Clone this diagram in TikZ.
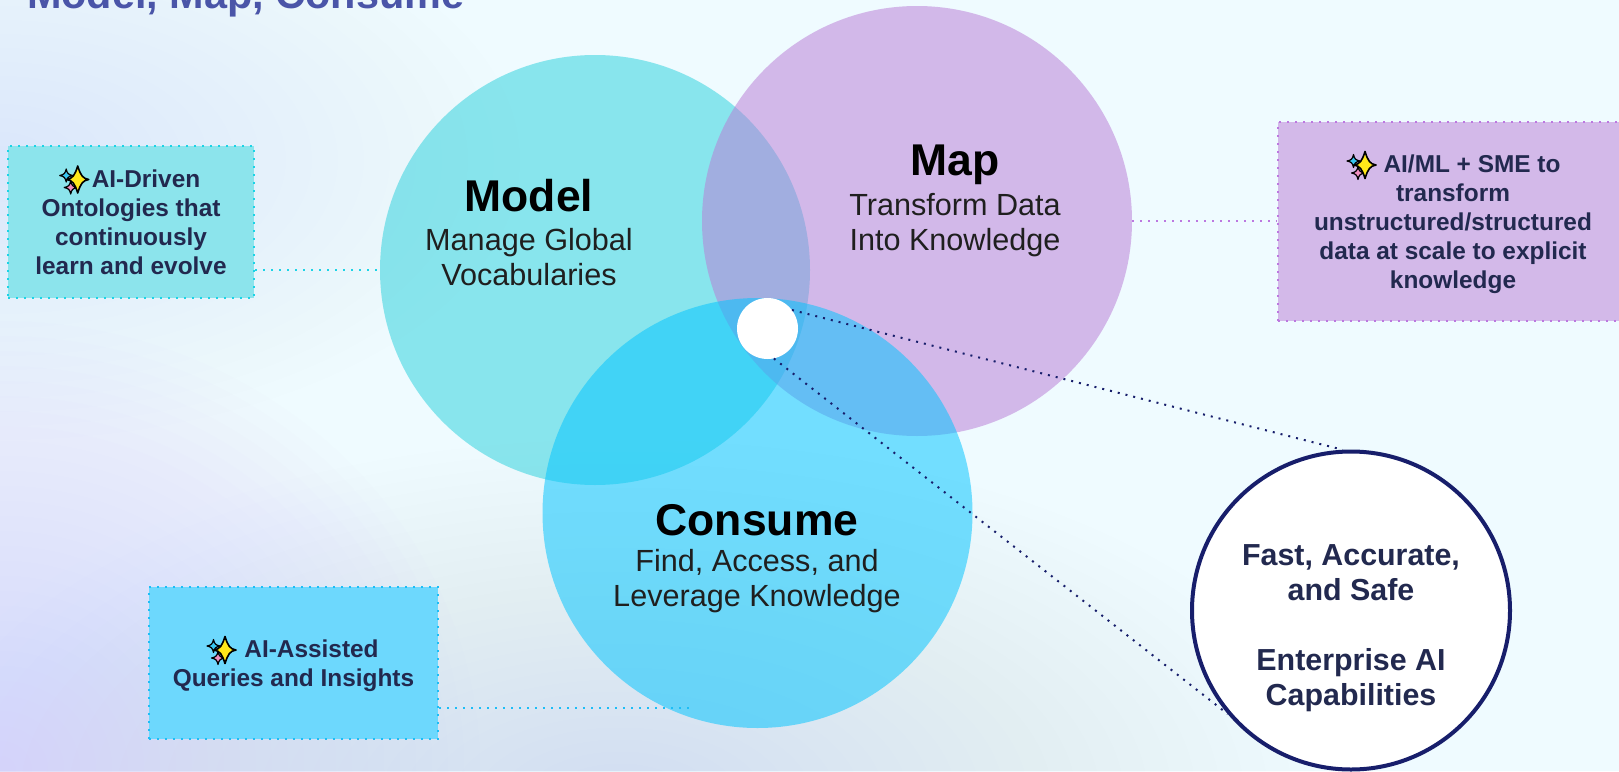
\documentclass[tikz,border=0pt]{standalone}
\usepackage{fontspec}
\setmainfont{Liberation Sans}
\definecolor{basebg}{HTML}{EFFBFF}
\definecolor{lavbg}{HTML}{D4C8FB}
\definecolor{bluebg}{HTML}{B8DCF2}
\definecolor{inkdark}{HTML}{22294F}
\definecolor{navy}{HTML}{171E6B}
\definecolor{titleblue}{HTML}{4A55A8}
\definecolor{modelc}{HTML}{2BD1DD}
\definecolor{mapc}{HTML}{B97CD5}
\definecolor{consumec}{HTML}{00C4FF}
\definecolor{modelbox}{HTML}{8CE4EC}
\definecolor{mapbox}{HTML}{D3B9E9}
\definecolor{consumebox}{HTML}{6DD8FD}
\definecolor{modeldot}{HTML}{1CD3E6}
\definecolor{mapdot}{HTML}{BC78E0}
\definecolor{consumedot}{HTML}{1DBDF6}
\definecolor{starblue}{HTML}{38C6F0}
\definecolor{starpink}{HTML}{F08FC0}
\definecolor{staryellow}{HTML}{FFE81A}
\tikzset{
  x=1pt,y=-1pt,
  dotline/.style={line width=2pt,dash pattern=on 2pt off 6pt},
  venn/.style={circle,minimum size=430pt,inner sep=0pt,fill opacity=.52},
  aibox/.style={rectangle,inner sep=0pt,dotline},
  aitext/.style={align=center,text=inkdark,inner sep=0pt,font=\fontsize{24.4}{29}\selectfont\bfseries},
  head/.style={align=center,font=\fontsize{44.5}{50}\selectfont\bfseries,text=black},
  sub/.style={align=center,font=\fontsize{30.6}{35}\selectfont,text=black!88},
  sparkle/.pic={
    \draw[fill=starblue,line width=1.2pt,line join=round] (-18,-4) .. controls (-13.5,-5) and (-12.5,-6) .. (-11.5,-10.5) .. controls (-10.5,-6) and (-9.5,-5) .. (-5,-4) .. controls (-9.5,-3) and (-10.5,-2) .. (-11.5,2.5) .. controls (-12.5,-2) and (-13.5,-3) .. (-18,-4) -- cycle;
    \draw[fill=starpink,line width=1.2pt,line join=round] (-13.5,8) .. controls (-9,7) and (-8,6) .. (-7,1.5) .. controls (-6,6) and (-5,7) .. (-.5,8) .. controls (-5,9) and (-6,10) .. (-7,14.5) .. controls (-8,10) and (-9,9) .. (-13.5,8) -- cycle;
    \draw[fill=staryellow,line width=1.6pt,line join=round] (-11,0) .. controls (-5,-1) and (-3,-4) .. (0,-13.5) .. controls (3,-4) and (5,-1) .. (11,0) .. controls (5,1) and (3,4) .. (0,13.5) .. controls (-3,4) and (-5,1) .. (-11,0) -- cycle;
  }
}
\begin{document}
\begin{tikzpicture}
\clip (0,0) rectangle (1619,771);
% background
\fill[basebg] (0,0) rectangle (1619,771);
\foreach \k in {30,29,...,1}{
  \fill[bluebg,opacity=.016] (620,800) ellipse[x radius=\k*24,y radius=\k*12];
}
\foreach \k in {30,29,...,1}{
  \fill[lavbg,opacity=.028] (0,771) ellipse[x radius=\k*16,y radius=\k*15];
}
\foreach \k in {20,19,...,1}{
  \fill[lavbg,opacity=.003] (0,160) ellipse[x radius=\k*26,y radius=\k*14];
}
% title
\node[anchor=base west,inner sep=0pt,text=titleblue,font=\fontsize{41.4}{41}\selectfont\bfseries] (title) at (27,9) {Model, Map, Consume};
% venn circles
\node[venn,fill=modelc] (model) at (595,270) {};
\node[venn,fill=mapc] (map) at (917,221) {};
\node[venn,fill=consumec] (consume) at (757.5,513) {};
% boxes
\node[aibox,draw=modeldot,fill=modelbox,minimum width=246pt,minimum height=152pt] (boxmodel) at (131,222) {};
\node[aibox,draw=mapdot,fill=mapbox,minimum width=350pt,minimum height=199pt] (boxmap) at (1453,221.5) {};
\node[aibox,draw=consumedot,fill=consumebox,minimum width=289pt,minimum height=152pt] (boxconsume) at (293.5,663) {};
\node[aitext] (textmodel) at (131,222.5)
  {\hspace*{30pt}AI-Driven\\Ontologies that\\continuously\\learn and evolve};
\node[aitext] (textmap) at (1453,224)
  {\hspace*{38pt}AI/ML + SME to\\transform\\unstructured/structured\\data at scale to explicit\\knowledge};
\node[aitext] (textconsume) at (293.5,665.5)
  {\hspace*{36pt}AI-Assisted\\Queries and Insights};
\pic at (77.7,179.5) {sparkle};
\pic at (1365,165) {sparkle};
\pic at (225,650) {sparkle};
% circle labels
\node[head] (modelhead) at (529,196) {Model};
\node[sub] (modelsub) at (529,257) {Manage Global\\Vocabularies};
\node[head] (maphead) at (955,165) {Map};
\node[sub] (mapsub) at (955,225.5) {Transform Data\\Into Knowledge};
\node[head] (consumehead) at (757,520) {Consume};
\node[sub] (consumesub) at (757,581.5) {Find, Access, and\\Leverage Knowledge};
% hub and outcome
\node[circle,fill=white,minimum size=61pt,inner sep=0pt] (hub) at (767.5,328.5) {};
\node[circle,draw=navy,line width=4pt,fill=white,minimum size=318pt,inner sep=0pt] (outcome) at (1351,610.5) {};
\node[align=center,text=inkdark,inner sep=0pt,font=\fontsize{30.4}{35}\selectfont\bfseries] (outcometext) at (1351,628.5)
  {Fast, Accurate,\\and Safe\\[35pt]Enterprise AI\\Capabilities};
% connectors
\coordinate (consumeend) at (693,708);
\draw[dotline,modeldot] (boxmodel.east |- model.west) -- (model.west);
\draw[dotline,mapdot] (map.east) -- (boxmap.west |- map.east);
\draw[dotline,consumedot] (boxconsume.east |- consumeend) -- (consumeend);
\draw[dotline,navy] (hub.37) -- (outcome.93);
\draw[dotline,navy] (hub.-78) -- (outcome.220);
\end{tikzpicture}
\end{document}
